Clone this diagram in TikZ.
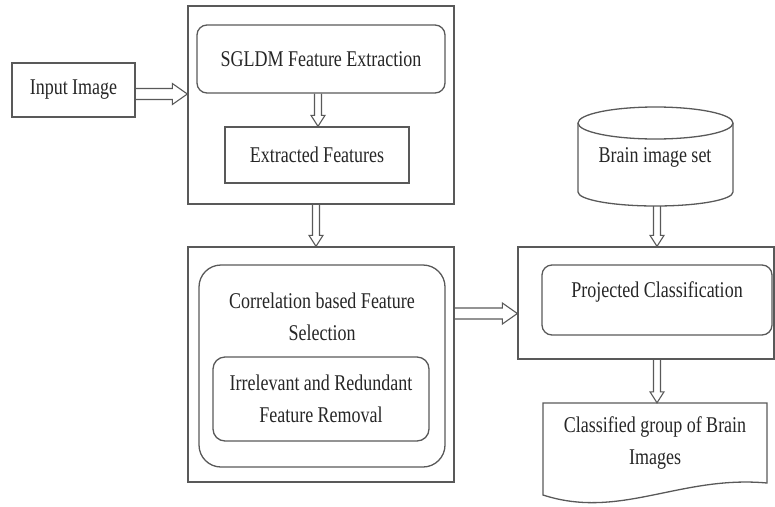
\documentclass[tikz,border=0pt]{standalone}
\usepackage{fontspec}
\setmainfont{Liberation Serif}[FakeStretch=0.8]
\usetikzlibrary{calc}
\definecolor{linec}{gray}{0.35}
\newcommand\harrow[2]{\draw[barr] let \p1=(#1), \p2=(#2) in
  (\x1,\y1+5.5pt) -- (\x2-15pt,\y1+5.5pt) -- (\x2-15pt,\y1+10.5pt) -- (\x2,\y1)
  -- (\x2-15pt,\y1-10.5pt) -- (\x2-15pt,\y1-5.5pt) -- (\x1,\y1-5.5pt);}
\newcommand\varrow[2]{\draw[barr] let \p1=(#1), \p2=(#2) in
  (\x1-3.5pt,\y1) -- (\x1-3.5pt,\y2+11pt) -- (\x1-7pt,\y2+11pt) -- (\x1,\y2)
  -- (\x1+7pt,\y2+11pt) -- (\x1+3.5pt,\y2+11pt) -- (\x1+3.5pt,\y1);}
\begin{document}
\begin{tikzpicture}[x=1pt,y=-1pt,
  box/.style={draw=linec, line width=1.3pt, inner sep=0pt},
  rbox/.style={box, rounded corners=10pt},
  txt/.style={font=\fontsize{22.5}{32}\selectfont, align=center, text=black!85},
  shapeline/.style={draw=linec, line width=1.3pt},
  barr/.style={draw=linec, line width=1.1pt, line join=miter}]
\useasboundingbox (0,0) rectangle (775,506);
% left column
\node[box, txt, minimum width=123pt, minimum height=54pt] (inp) at (73.5,90) {Input Image};
\node[box, minimum width=266pt, minimum height=198pt] (top) at (321,105) {};
\node[rbox, txt, minimum width=248pt, minimum height=68pt] (sg) at (321,59) {SGLDM Feature Extraction};
\node[box, txt, minimum width=184pt, minimum height=56pt] (ef) at (317,155) {Extracted Features};
\node[box, minimum width=266pt, minimum height=235pt] (bot) at (321,364.5) {};
\node[box, rounded corners=22pt, minimum width=246pt, minimum height=202pt] (cor) at (322,366) {};
\node[txt, inner sep=0pt] (cort) at (322,316.5) {Correlation based Feature\\Selection};
\node[rbox, txt, rounded corners=12pt, minimum width=216pt, minimum height=84pt] (irr) at (321,399) {Irrelevant and Redundant\\Feature Removal};
% right column
\node[inner sep=0pt, minimum width=155pt, minimum height=99pt] (cyl) at (655.5,156.5) {};
\draw[shapeline] (578,123) -- (578,192) arc[start angle=180, end angle=360, x radius=77.5pt, y radius=14pt] -- (733,123);
\draw[shapeline] (655.5,123) ellipse [x radius=77.5pt, y radius=16pt];
\node[txt, inner sep=0pt] (cylt) at (655,157) {Brain image set};
\node[box, minimum width=256pt, minimum height=112pt] (rb) at (646,303) {};
\node[rbox, minimum width=230pt, minimum height=70pt] (pc) at (657,300) {};
\node[txt, inner sep=0pt] (pct) at (657,292) {Projected Classification};
\node[inner sep=0pt, minimum width=224pt, minimum height=80pt] (doc) at (655,443) {};
\draw[shapeline] (543,403) -- (767,403) -- (767,483) .. controls (680,475) and (620,520) .. (543,495) -- cycle;
\node[txt, inner sep=0pt] (doct) at (655,442.5) {Classified group of Brain\\Images};
% connectors
\harrow{inp.east |- 0,94}{top.west |- 0,94}
\varrow{sg.south -| 318,0}{ef.north -| 318,0}
\varrow{top.south -| 316,0}{bot.north -| 316,0}
\harrow{bot.east |- 0,313.5}{rb.west |- 0,313.5}
\varrow{cyl.south -| 657,0}{rb.north -| 657,0}
\varrow{rb.south -| 657,0}{doc.north -| 657,0}
\end{tikzpicture}
\end{document}
